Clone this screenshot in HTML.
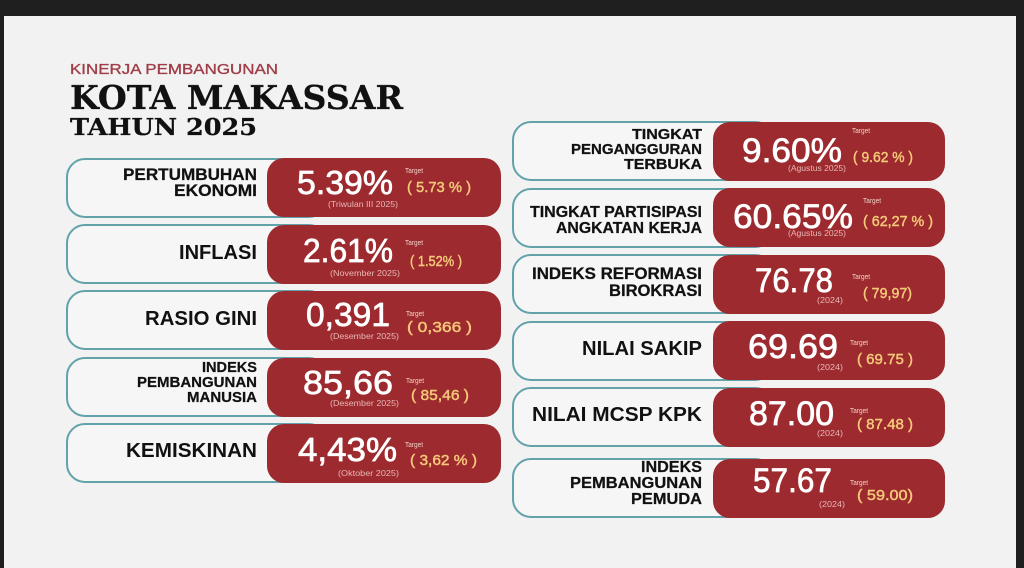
<!DOCTYPE html>
<html><head><meta charset="utf-8"><style>
html,body{margin:0;padding:0;background:#1f1f1f;}
svg{display:block;}
</style></head><body>
<svg width="1024" height="568" viewBox="0 0 1024 568" xmlns="http://www.w3.org/2000/svg">
<rect x="0" y="0" width="1024" height="568" fill="#1f1f1f"/>
<rect x="4" y="16" width="1012" height="552" fill="#f2f2f2"/>

<!-- Title -->
<text x="70" y="74" font-family="Liberation Sans, sans-serif" font-size="15" fill="#a03e48" stroke="#a03e48" stroke-width="0.35" textLength="208" lengthAdjust="spacingAndGlyphs">KINERJA PEMBANGUNAN</text>
<text x="70" y="109" font-family="DejaVu Serif, Liberation Serif, serif" font-weight="bold" font-size="33" fill="#111" stroke="#111" stroke-width="0.3" textLength="333" lengthAdjust="spacingAndGlyphs">KOTA MAKASSAR</text>
<text x="70" y="135" font-family="DejaVu Serif, Liberation Serif, serif" font-weight="bold" font-size="23.5" fill="#111" stroke="#111" stroke-width="0.3" textLength="187" lengthAdjust="spacingAndGlyphs">TAHUN 2025</text>

<g font-family="Liberation Sans, Arial, sans-serif">
<!-- LEFT CARDS -->
<g fill="#f6f6f6" stroke="#62a2aa" stroke-width="2">
<rect x="67" y="159" width="260" height="58" rx="18"/>
<rect x="67" y="225" width="260" height="58" rx="18"/>
<rect x="67" y="291" width="260" height="58" rx="18"/>
<rect x="67" y="358" width="260" height="58" rx="18"/>
<rect x="67" y="424" width="260" height="58" rx="18"/>
</g>
<g fill="#9d2a2e">
<rect x="267" y="158" width="234" height="59" rx="17"/>
<rect x="267" y="225" width="234" height="59" rx="17"/>
<rect x="267" y="291" width="234" height="59" rx="17"/>
<rect x="267" y="358" width="234" height="59" rx="17"/>
<rect x="267" y="424" width="234" height="59" rx="17"/>
</g>

<!-- left labels -->
<g font-weight="bold" fill="#111" text-anchor="end">
<text x="257" y="180" font-size="17" stroke="#111" stroke-width="0.25" textLength="134" lengthAdjust="spacingAndGlyphs">PERTUMBUHAN</text>
<text x="257" y="196" font-size="17" stroke="#111" stroke-width="0.25" textLength="83" lengthAdjust="spacingAndGlyphs">EKONOMI</text>
<text x="257" y="259" font-size="20.5" textLength="78" lengthAdjust="spacingAndGlyphs">INFLASI</text>
<text x="257" y="325" font-size="20.5" textLength="112" lengthAdjust="spacingAndGlyphs">RASIO GINI</text>
<text x="257" y="372" font-size="15" stroke="#111" stroke-width="0.25" textLength="55" lengthAdjust="spacingAndGlyphs">INDEKS</text>
<text x="257" y="387" font-size="15" stroke="#111" stroke-width="0.25" textLength="120" lengthAdjust="spacingAndGlyphs">PEMBANGUNAN</text>
<text x="257" y="402" font-size="15" stroke="#111" stroke-width="0.25" textLength="70" lengthAdjust="spacingAndGlyphs">MANUSIA</text>
<text x="257" y="457" font-size="20.5" textLength="131" lengthAdjust="spacingAndGlyphs">KEMISKINAN</text>
</g>

<!-- left values -->
<g fill="#fff" stroke="#fff" stroke-width="0.7" font-size="33">
<text x="297" y="194" textLength="96" lengthAdjust="spacingAndGlyphs">5.39%</text>
<text x="303" y="262" textLength="90" lengthAdjust="spacingAndGlyphs">2.61%</text>
<text x="306" y="326" textLength="84" lengthAdjust="spacingAndGlyphs">0,391</text>
<text x="303" y="394" textLength="90" lengthAdjust="spacingAndGlyphs">85,66</text>
<text x="298" y="461" textLength="99" lengthAdjust="spacingAndGlyphs">4,43%</text>
</g>
<g fill="#e8b7b7" font-size="8.5" text-anchor="end">
<text x="398" y="207" textLength="70" lengthAdjust="spacingAndGlyphs">(Triwulan III 2025)</text>
<text x="400" y="276" textLength="70" lengthAdjust="spacingAndGlyphs">(November 2025)</text>
<text x="399" y="339" textLength="69" lengthAdjust="spacingAndGlyphs">(Desember 2025)</text>
<text x="399" y="406" textLength="69" lengthAdjust="spacingAndGlyphs">(Desember 2025)</text>
<text x="399" y="476" textLength="61" lengthAdjust="spacingAndGlyphs">(Oktober 2025)</text>
</g>
<g fill="#f0d2c8" font-size="7">
<text x="405" y="173" textLength="18" lengthAdjust="spacingAndGlyphs">Target</text>
<text x="405" y="245" textLength="18" lengthAdjust="spacingAndGlyphs">Target</text>
<text x="406" y="316" textLength="18" lengthAdjust="spacingAndGlyphs">Target</text>
<text x="406" y="383" textLength="18" lengthAdjust="spacingAndGlyphs">Target</text>
<text x="405" y="447" textLength="18" lengthAdjust="spacingAndGlyphs">Target</text>
</g>
<g fill="#f5c97a" stroke="#f5c97a" stroke-width="0.45" font-size="15">
<text x="407" y="192" textLength="64" lengthAdjust="spacingAndGlyphs">( 5.73 % )</text>
<text x="410" y="266" textLength="52" lengthAdjust="spacingAndGlyphs">( 1.52% )</text>
<text x="407" y="332" textLength="65" lengthAdjust="spacingAndGlyphs">( 0,366 )</text>
<text x="411" y="400" textLength="58" lengthAdjust="spacingAndGlyphs">( 85,46 )</text>
<text x="410" y="465" textLength="67" lengthAdjust="spacingAndGlyphs">( 3,62 % )</text>
</g>

<!-- RIGHT CARDS -->
<g fill="#f6f6f6" stroke="#62a2aa" stroke-width="2">
<rect x="513" y="122" width="260" height="58" rx="18"/>
<rect x="513" y="189" width="260" height="58" rx="18"/>
<rect x="513" y="255" width="260" height="58" rx="18"/>
<rect x="513" y="322" width="260" height="58" rx="18"/>
<rect x="513" y="388" width="260" height="58" rx="18"/>
<rect x="513" y="459" width="260" height="58" rx="18"/>
</g>
<g fill="#9d2a2e">
<rect x="713" y="122" width="232" height="59" rx="17"/>
<rect x="713" y="188" width="232" height="59" rx="17"/>
<rect x="713" y="255" width="232" height="59" rx="17"/>
<rect x="713" y="321" width="232" height="59" rx="17"/>
<rect x="713" y="388" width="232" height="59" rx="17"/>
<rect x="713" y="459" width="232" height="59" rx="17"/>
</g>

<g font-weight="bold" fill="#111" text-anchor="end">
<text x="702" y="139" font-size="15" stroke="#111" stroke-width="0.25" textLength="70" lengthAdjust="spacingAndGlyphs">TINGKAT</text>
<text x="702" y="154" font-size="15" stroke="#111" stroke-width="0.25" textLength="131" lengthAdjust="spacingAndGlyphs">PENGANGGURAN</text>
<text x="702" y="169" font-size="15" stroke="#111" stroke-width="0.25" textLength="78" lengthAdjust="spacingAndGlyphs">TERBUKA</text>
<text x="702" y="217" font-size="16" stroke="#111" stroke-width="0.25" textLength="172" lengthAdjust="spacingAndGlyphs">TINGKAT PARTISIPASI</text>
<text x="702" y="233" font-size="16" stroke="#111" stroke-width="0.25" textLength="146" lengthAdjust="spacingAndGlyphs">ANGKATAN KERJA</text>
<text x="702" y="279" font-size="16.5" stroke="#111" stroke-width="0.25" textLength="170" lengthAdjust="spacingAndGlyphs">INDEKS REFORMASI</text>
<text x="702" y="296" font-size="16.5" stroke="#111" stroke-width="0.25" textLength="93" lengthAdjust="spacingAndGlyphs">BIROKRASI</text>
<text x="702" y="355" font-size="20.5" textLength="120" lengthAdjust="spacingAndGlyphs">NILAI SAKIP</text>
<text x="702" y="421" font-size="20.5" textLength="170" lengthAdjust="spacingAndGlyphs">NILAI MCSP KPK</text>
<text x="702" y="472" font-size="16" stroke="#111" stroke-width="0.25" textLength="61" lengthAdjust="spacingAndGlyphs">INDEKS</text>
<text x="702" y="488" font-size="16" stroke="#111" stroke-width="0.25" textLength="132" lengthAdjust="spacingAndGlyphs">PEMBANGUNAN</text>
<text x="702" y="504" font-size="16" stroke="#111" stroke-width="0.25" textLength="71" lengthAdjust="spacingAndGlyphs">PEMUDA</text>
</g>

<g fill="#fff" stroke="#fff" stroke-width="0.7" font-size="34">
<text x="742" y="162" textLength="100" lengthAdjust="spacingAndGlyphs">9.60%</text>
<text x="733" y="228" textLength="120" lengthAdjust="spacingAndGlyphs">60.65%</text>
<text x="755" y="292" textLength="78" lengthAdjust="spacingAndGlyphs">76.78</text>
<text x="748" y="358" textLength="90" lengthAdjust="spacingAndGlyphs">69.69</text>
<text x="749" y="425" textLength="85" lengthAdjust="spacingAndGlyphs">87.00</text>
<text x="753" y="492" textLength="79" lengthAdjust="spacingAndGlyphs">57.67</text>
</g>
<g fill="#e8b7b7" font-size="8.5" text-anchor="end">
<text x="846" y="171" textLength="58" lengthAdjust="spacingAndGlyphs">(Agustus 2025)</text>
<text x="846" y="236" textLength="58" lengthAdjust="spacingAndGlyphs">(Agustus 2025)</text>
<text x="843" y="303" textLength="26" lengthAdjust="spacingAndGlyphs">(2024)</text>
<text x="843" y="370" textLength="26" lengthAdjust="spacingAndGlyphs">(2024)</text>
<text x="843" y="436" textLength="26" lengthAdjust="spacingAndGlyphs">(2024)</text>
<text x="845" y="507" textLength="26" lengthAdjust="spacingAndGlyphs">(2024)</text>
</g>
<g fill="#f0d2c8" font-size="7">
<text x="852" y="133" textLength="18" lengthAdjust="spacingAndGlyphs">Target</text>
<text x="863" y="203" textLength="18" lengthAdjust="spacingAndGlyphs">Target</text>
<text x="852" y="279" textLength="18" lengthAdjust="spacingAndGlyphs">Target</text>
<text x="850" y="345" textLength="18" lengthAdjust="spacingAndGlyphs">Target</text>
<text x="850" y="413" textLength="18" lengthAdjust="spacingAndGlyphs">Target</text>
<text x="850" y="485" textLength="18" lengthAdjust="spacingAndGlyphs">Target</text>
</g>
<g fill="#f5c97a" stroke="#f5c97a" stroke-width="0.45" font-size="15">
<text x="853" y="162" textLength="60" lengthAdjust="spacingAndGlyphs">( 9.62 % )</text>
<text x="863" y="226" textLength="70" lengthAdjust="spacingAndGlyphs">( 62,27 % )</text>
<text x="863" y="298" textLength="49" lengthAdjust="spacingAndGlyphs">( 79,97)</text>
<text x="857" y="364" textLength="56" lengthAdjust="spacingAndGlyphs">( 69.75 )</text>
<text x="857" y="429" textLength="56" lengthAdjust="spacingAndGlyphs">( 87.48 )</text>
<text x="857" y="500" textLength="56" lengthAdjust="spacingAndGlyphs">( 59.00)</text>
</g>
</g>
</svg>
</body></html>
